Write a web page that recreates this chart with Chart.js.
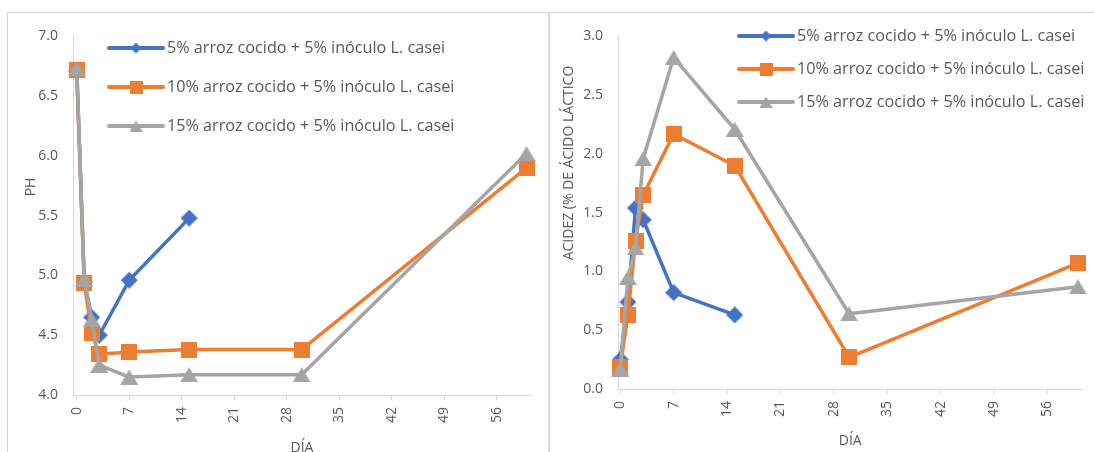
<!DOCTYPE html>
<html>
<head>
<meta charset="utf-8">
<script src="https://cdn.jsdelivr.net/npm/chart.js@4.4.1/dist/chart.umd.min.js"></script>
<style>
  html, body { margin: 0; padding: 0; background: #fff; overflow: hidden; width: 1094px; height: 452px; }
  .frame { position: absolute; border: 1px solid #d9d9d9; box-sizing: border-box; }
  #frameLeft { left: 7px; top: 12px; width: 542px; height: 480px; }
  #frameRight { left: 549px; top: 12px; width: 570px; height: 480px; }
  canvas { position: absolute; }
  #phChart { left: 8px; top: 13px; }
  #acidChart { left: 550px; top: 13px; }
</style>
</head>
<body>
<div class="frame" id="frameLeft"></div>
<div class="frame" id="frameRight"></div>
<canvas id="phChart" width="539" height="458"></canvas>
<canvas id="acidChart" width="544" height="458"></canvas>
<script>
// Sampling days and axis ticks
const DAYS = [0, 1, 2, 3, 7, 15, 30, 60];
const DAY_TICKS = [0, 7, 14, 21, 28, 35, 42, 49, 56];

const SERIES_NAMES = [
  '5% arroz cocido + 5% inóculo L. casei',
  '10% arroz cocido + 5% inóculo L. casei',
  '15% arroz cocido + 5% inóculo L. casei'
];

// pH per formulation (5% series was followed up to day 15)
const PH_5 = [6.71, 4.95, 4.65, 4.50, 4.96, 5.48];
const PH_10 = [6.72, 4.94, 4.52, 4.34, 4.36, 4.38, 4.38, 5.90];
const PH_15 = [6.73, 4.97, 4.63, 4.25, 4.15, 4.17, 4.17, 6.02];

// Titratable acidity (% lactic acid)
const ACID_5 = [0.25, 0.74, 1.54, 1.44, 0.82, 0.63];
const ACID_10 = [0.19, 0.63, 1.26, 1.65, 2.17, 1.90, 0.27, 1.07];
const ACID_15 = [0.17, 0.95, 1.20, 1.96, 2.82, 2.21, 0.64, 0.87];

const PH_RANGE = [4, 7];
const ACID_RANGE = [0, 3];

const COLORS = ['#4472C4', '#ED7D31', '#A5A5A5'];
const SHAPES = ['diamond', 'square', 'triangle'];
const TEXT = '#595959';
const AXIS = '#d9d9d9';
const FONT = '"Open Sans", "DejaVu Sans", sans-serif';

Chart.defaults.font.family = FONT;
Chart.defaults.color = TEXT;

// Marker bitmaps centred on their bounding box
function makeMarker(shape, color, w, h) {
  const c = document.createElement('canvas');
  c.width = w; c.height = h;
  const g = c.getContext('2d');
  g.fillStyle = color;
  g.beginPath();
  if (shape === 'diamond') {
    g.moveTo(w / 2, 0); g.lineTo(w, h / 2); g.lineTo(w / 2, h); g.lineTo(0, h / 2);
  } else if (shape === 'square') {
    g.rect(0, 0, w, h);
  } else {
    g.moveTo(w / 2, 0); g.lineTo(w, h); g.lineTo(0, h);
  }
  g.closePath();
  g.fill();
  return c;
}
const MARK_SIZE = { diamond: [17, 17], square: [16, 16], triangle: [18, 15] };
const LEG_SIZE = { diamond: [11, 11], square: [13, 13], triangle: [13, 11] };
const chartMarks = SHAPES.map((s, i) => makeMarker(s, COLORS[i], ...MARK_SIZE[s]));
const legendMarks = SHAPES.map((s, i) => makeMarker(s, COLORS[i], ...LEG_SIZE[s]));

function toPoints(values) {
  return values.map((v, i) => ({ x: DAYS[i], y: v }));
}

function makeDatasets(seriesList) {
  return seriesList.map((vals, i) => ({
    label: SERIES_NAMES[i],
    data: toPoints(vals),
    borderColor: COLORS[i],
    backgroundColor: COLORS[i],
    borderWidth: 3.5,
    borderCapStyle: 'round',
    borderJoinStyle: 'round',
    pointStyle: chartMarks[i],
    pointRadius: 8,
    pointHoverRadius: 8,
    tension: 0,
    clip: false,
    order: 2 - i
  }));
}

// Legend drawn inside the plot region
const insideLegend = {
  id: 'insideLegend',
  afterDraw(chart, args, opts) {
    const ctx = chart.ctx;
    ctx.save();
    ctx.font = opts.fontSize + 'px ' + FONT;
    ctx.textBaseline = 'middle';
    ctx.textAlign = 'left';
    chart.data.datasets.forEach((ds, i) => {
      const y = opts.y + i * opts.gap;
      ctx.strokeStyle = ds.borderColor;
      ctx.lineWidth = 4;
      ctx.lineCap = 'round';
      ctx.beginPath();
      ctx.moveTo(opts.x, y);
      ctx.lineTo(opts.x + opts.len, y);
      ctx.stroke();
      const m = legendMarks[i];
      ctx.drawImage(m, opts.x + opts.len / 2 - m.width / 2, y - m.height / 2);
      ctx.fillStyle = TEXT;
      ctx.fillText(ds.label, opts.x + opts.len + opts.textGap, y);
    });
    ctx.restore();
  }
};

// Vertical axis title placed beside the tick labels
const sideTitle = {
  id: 'sideTitle',
  afterDraw(chart, args, opts) {
    const ctx = chart.ctx;
    ctx.save();
    ctx.font = '14px ' + FONT;
    ctx.fillStyle = TEXT;
    ctx.textAlign = 'center';
    ctx.textBaseline = 'middle';
    ctx.translate(opts.x, opts.y);
    ctx.rotate(-Math.PI / 2);
    ctx.fillText(opts.text, 0, 0);
    ctx.restore();
  }
};

function buildChart(id, p) {
  return new Chart(document.getElementById(id), {
    type: 'line',
    data: { datasets: makeDatasets(p.series) },
    plugins: [insideLegend, sideTitle],
    options: {
      responsive: false,
      animation: false,
      events: [],
      layout: { padding: { top: p.padTop, right: p.padRight, bottom: 0, left: 0 } },
      plugins: {
        legend: { display: false },
        tooltip: { enabled: false },
        insideLegend: p.legend,
        sideTitle: p.yTitle
      },
      scales: {
        x: {
          type: 'linear',
          min: p.xRange[0],
          max: p.xRange[1],
          afterBuildTicks: s => { s.ticks = DAY_TICKS.map(v => ({ value: v })); },
          afterFit: s => { s.height = p.xHeight; },
          ticks: {
            autoSkip: false,
            minRotation: 90,
            maxRotation: 90,
            padding: 7,
            color: TEXT,
            font: { size: 14 },
            callback: v => String(v)
          },
          grid: { drawOnChartArea: false, drawTicks: true, tickLength: 5, color: AXIS },
          border: { display: true, color: AXIS, width: 1 },
          title: {
            display: true,
            text: 'DÍA',
            color: TEXT,
            font: { size: 14 },
            padding: { top: 0, bottom: p.xTitlePad }
          }
        },
        y: {
          type: 'linear',
          min: p.yRange[0],
          max: p.yRange[1],
          afterFit: s => { s.width = p.yWidth; },
          ticks: {
            stepSize: 0.5,
            padding: 15,
            color: TEXT,
            font: { size: 14 },
            callback: v => Number(v).toFixed(1)
          },
          grid: { display: false, drawTicks: false },
          border: { display: true, color: AXIS, width: 1 }
        }
      }
    }
  });
}

buildChart('phChart', {
  series: [PH_5, PH_10, PH_15],
  yRange: PH_RANGE,
  xRange: [-0.5, 60.6],
  padTop: 22,
  padRight: 16,
  yWidth: 65,
  xHeight: 76,
  xTitlePad: 15,
  legend: { x: 101, y: 35, gap: 39, len: 54, textGap: 4, fontSize: 16.2 },
  yTitle: { text: 'PH', x: 23.5, y: 174 }
});

buildChart('acidChart', {
  series: [ACID_5, ACID_10, ACID_15],
  yRange: ACID_RANGE,
  xRange: [-0.3, 60.6],
  padTop: 22,
  padRight: 7.5,
  yWidth: 68,
  xHeight: 82,
  xTitlePad: 22,
  legend: { x: 189, y: 23, gap: 33, len: 54, textGap: 4, fontSize: 16.2 },
  yTitle: { text: 'ACIDEZ (% DE ÁCIDO LÁCTICO', x: 19.5, y: 150 }
});
</script>
</body>
</html>
